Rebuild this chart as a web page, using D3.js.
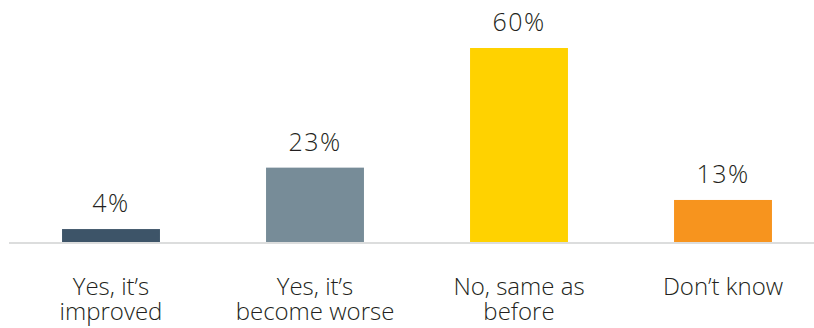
<!DOCTYPE html>
<html>
<head>
<meta charset="utf-8">
<script src="https://cdn.jsdelivr.net/npm/d3@7"></script>
<style>
  body { margin: 0; background: #fff; }
  text { font-family: "Open Sans", Lato, sans-serif; font-weight: 300; fill: #231f20; }
</style>
</head>
<body>
<div id="chart"></div>
<script>
// data
var categories = [["Yes, it\u2019s", "improved"], ["Yes, it\u2019s", "become worse"], ["No, same as", "before"], ["Don\u2019t know"]];
var values = [4, 23, 60, 13];
var colors = ["#3d5468", "#778c98", "#ffd200", "#f7941e"];

var svgWidth = 814;
var svgHeight = 328;
var baseY = 242;

var svg = d3.select("#chart")
  .append("svg")
  .attr("width", svgWidth)
  .attr("height", svgHeight);

var idx = d3.range(values.length);

var xScale = d3.scaleBand()
  .domain(idx)
  .range([9, 825])
  .paddingInner(0.52)
  .paddingOuter(0.26);

var yScale = d3.scaleLinear()
  .domain([0, 60])
  .range([baseY, 48]);

// baseline
svg.append("rect")
  .attr("x", 9)
  .attr("y", baseY)
  .attr("width", svgWidth - 9)
  .attr("height", 2)
  .attr("fill", "#dcdddd");

svg.selectAll(".bar")
  .data(idx)
  .enter()
  .append("rect")
  .attr("class", "bar")
  .attr("x", i => xScale(i))
  .attr("y", i => yScale(values[i]))
  .attr("width", xScale.bandwidth())
  .attr("height", i => baseY - yScale(values[i]))
  .attr("fill", i => colors[i]);

// value labels
svg.selectAll(".val")
  .data(idx)
  .enter()
  .append("text")
  .attr("class", "val")
  .attr("x", i => xScale(i) + xScale.bandwidth() / 2)
  .attr("y", i => yScale(values[i]) - 17)
  .attr("text-anchor", "middle")
  .style("font-size", "25px")
  .style("letter-spacing", "1.5px")
  .text(i => values[i] + "%");

// category labels
var catLabels = svg.selectAll(".cat")
  .data(idx)
  .enter()
  .append("text")
  .attr("class", "cat")
  .attr("x", i => xScale(i) + xScale.bandwidth() / 2)
  .attr("y", 295)
  .attr("text-anchor", "middle")
  .style("font-size", "24px");

catLabels.selectAll("tspan")
  .data(i => categories[i].map(t => ({ t: t, x: xScale(i) + xScale.bandwidth() / 2 })))
  .enter()
  .append("tspan")
  .attr("x", d => d.x)
  .attr("dy", (d, j) => j === 0 ? 0 : 25)
  .text(d => d.t);
</script>
</body>
</html>
